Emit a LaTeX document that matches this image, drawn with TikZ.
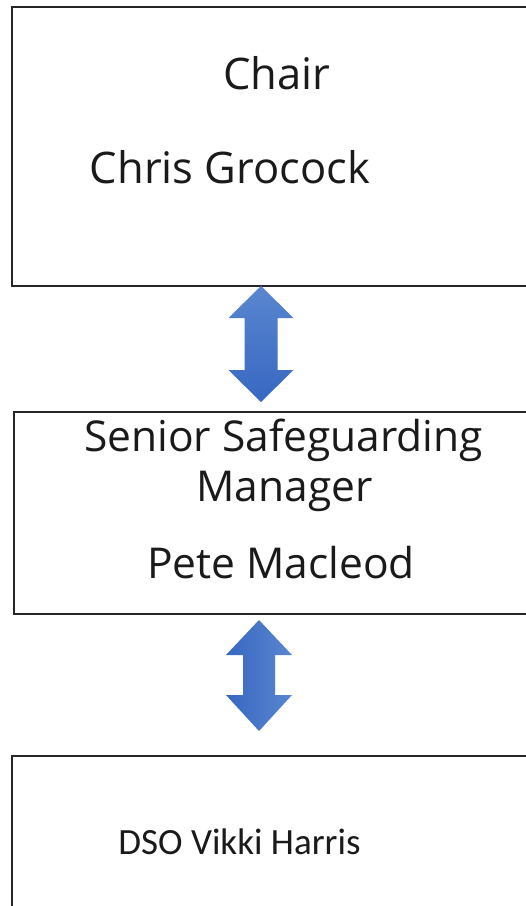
\documentclass[tikz,border=0pt]{standalone}
\usepackage{fontspec}
\setmainfont{Open Sans}
\newfontfamily\calfont{Carlito}
\usetikzlibrary{calc}
\definecolor{boxline}{HTML}{262626}
\definecolor{txt}{HTML}{1A1A1A}
\definecolor{arrA}{HTML}{5A86CF}
\definecolor{arrB}{HTML}{3767C2}
\tikzset{
  orgbox/.style={draw=boxline, line width=1.5pt, fill=white, anchor=north west, inner sep=0pt},
  lbl/.style={text=txt, anchor=base, inner sep=0pt, font=\fontsize{43.5}{50}\selectfont},
  lblmid/.style={text=txt, anchor=base, inner sep=0pt, font=\fontsize{42.5}{50}\selectfont},
  lblsmall/.style={text=txt, anchor=base, inner sep=0pt, font=\calfont\fontsize{37}{44}\selectfont},
}
\begin{document}
\begin{tikzpicture}[x=1pt,y=-1pt]
\useasboundingbox (0,0) rectangle (526,906);
\clip (0,0) rectangle (526,906);
\fill[white] (0,0) rectangle (526,906);
% boxes
\node[orgbox, minimum width=540pt, minimum height=279pt] (chair) at (11,6) {};
\node[orgbox, minimum width=540pt, minimum height=202pt] (ssm) at (13,411) {};
\node[orgbox, minimum width=540pt, minimum height=200pt] (dso) at (11,755) {};
% texts
\node[lbl] (t1) at (277,89) {Chair};
\node[lbl] (t2) at (230,183) {Chris Grocock};
\node[lblmid] (t3) at (283.5,451) {Senior Safeguarding};
\node[lblmid] (t4) at (284.5,501) {Manager};
\node[lblmid] (t5) at (281,578) {Pete Macleod};
\node[lblsmall] (t6) at (239.5,854) {DSO Vikki Harris};
% arrow 1
\shade[top color=arrA, bottom color=arrB]
  (261,286) -- (293.5,318) -- (277.5,318) -- (277.5,370) -- (293.5,370)
  -- (261,402) -- (228.5,370) -- (244.5,370) -- (244.5,318) -- (228.5,318) -- cycle;
% arrow 2
\shade[left color=arrB, right color=arrA]
  (259,620) -- (292,655) -- (275,655) -- (275,695) -- (292,695)
  -- (259,731) -- (226,695) -- (243,695) -- (243,655) -- (226,655) -- cycle;
\end{tikzpicture}
\end{document}
